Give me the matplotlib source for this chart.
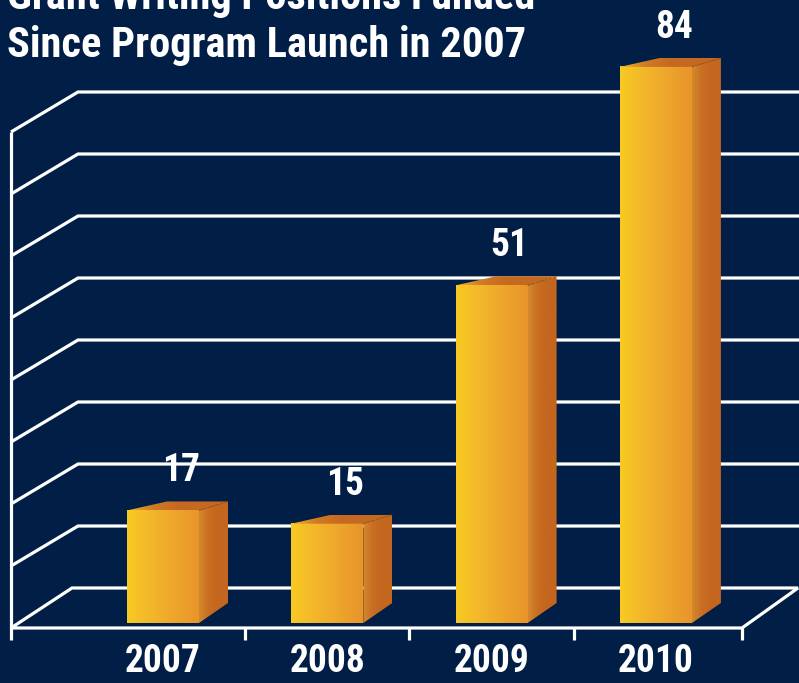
import numpy as np
import matplotlib.pyplot as plt
from matplotlib.patches import Polygon
from matplotlib.colors import LinearSegmentedColormap
from matplotlib import font_manager

# Datos del grafico
years = ['2007', '2008', '2009', '2010']
positions = [17, 15, 51, 84]
title_lines = ['Grant Writing Positions Funded', 'Since Program Launch in 2007']

BG = '#011e46'


def pick_font():
    for fam in ['Roboto Condensed', 'Liberation Sans Narrow', 'Open Sans Condensed']:
        try:
            font_manager.findfont(font_manager.FontProperties(family=fam),
                                  fallback_to_default=False)
            return fam, 'normal'
        except Exception:
            pass
    return 'DejaVu Sans', 'condensed'


FONT, STRETCH = pick_font()
NARROW = FONT != 'DejaVu Sans'
TITLE_SIZE = 30.5 if NARROW else 25
LABEL_SIZE = 27 if NARROW else 23

# escala: pixeles por unidad de categoria / unidad de valor
PX_X = 164.3
PX_Y = 6.62


def ox(p):
    return p / PX_X


def oy(p):
    return p / PX_Y


fig = plt.figure(figsize=(7.99, 6.83), dpi=100)
fig.patch.set_facecolor(BG)
ax = fig.add_axes([0, 0, 1, 1])
ax.set_facecolor(BG)
ax.axis('off')

# Rejilla en perspectiva
floor_v = -oy(5)
wall_x = ox(11 - 163)
wall_dx = ox(67)
depth_dy = oy(40)
step = oy(62)
floor_right = ox(742 - 163)
xmax = (799 - 163) / PX_X
line_kw = dict(color='white', lw=2.3, solid_capstyle='butt', solid_joinstyle='miter', zorder=1)

for k in range(9):
    yf = floor_v + k * step
    yb = yf + depth_dy
    if k == 0:
        ax.plot([wall_x, wall_x + ox(61), floor_right + ox(56), floor_right, wall_x],
                [yf, yb, yb, yf, yf], **line_kw)
    else:
        ax.plot([wall_x, wall_x + wall_dx, xmax + 0.1], [yf, yb, yb], **line_kw)

tick_len = oy(12)
ax.plot([wall_x, wall_x], [floor_v + 8 * step, floor_v - tick_len], **line_kw)
for t in [0.5, 1.5, 2.5, floor_right]:
    ax.plot([t, t], [floor_v, floor_v - tick_len], **line_kw)

# Barras 3D con degradado
front_cmap = LinearSegmentedColormap.from_list('front', ['#f8ca22', '#f3b72b', '#eea52c', '#e8952a'])
side_cmap = LinearSegmentedColormap.from_list('side', ['#d5892e', '#c96e22', '#c4661f', '#c4661f'])
top_cmap = LinearSegmentedColormap.from_list('top', ['#f2b52a', '#d07a26', '#c66920', '#c66920', '#c66920'])
grad = np.linspace(0, 1, 256).reshape(1, -1)

half_w = ox(36)
side_dx = ox(29)
top_dy = oy(9)
bot_dy = oy(20)
top_left_dx = ox(40)

for i, v in enumerate(positions):
    x0, x1 = i - half_w, i + half_w
    # cara frontal
    ax.imshow(grad, cmap=front_cmap, extent=(x0, x1, 0, v), aspect='auto', zorder=3,
              interpolation='bilinear')
    # cara lateral
    side = Polygon([(x1, 0), (x1, v), (x1 + side_dx, v + top_dy), (x1 + side_dx, bot_dy)],
                   closed=True, facecolor='none', edgecolor='none')
    ax.add_patch(side)
    im = ax.imshow(grad, cmap=side_cmap, extent=(x1, x1 + side_dx, 0, v + top_dy),
                   aspect='auto', zorder=3, interpolation='bilinear')
    im.set_clip_path(side)
    # cara superior
    top = Polygon([(x0, v), (x1, v), (x1 + side_dx, v + top_dy), (x0 + top_left_dx, v + top_dy)],
                  closed=True, facecolor='none', edgecolor='none')
    ax.add_patch(top)
    im = ax.imshow(grad, cmap=top_cmap, extent=(x0, x1 + side_dx, v, v + top_dy),
                   aspect='auto', zorder=3, interpolation='bilinear')
    im.set_clip_path(top)
    ax.plot([x1, x1 + side_dx], [v, v + top_dy], color='#9a5a22', lw=0.8,
            ls=(0, (2, 2)), zorder=4)

    # etiqueta de valor
    ax.text(i + ox(18), v + oy(29), str(v), color='white', fontsize=LABEL_SIZE,
            fontweight='bold', family=FONT, fontstretch=STRETCH,
            ha='center', va='baseline', zorder=5)

# etiquetas de los anos
for i, y in enumerate(years):
    ax.text(i, -oy(49), y, color='white', fontsize=LABEL_SIZE, fontweight='bold',
            family=FONT, fontstretch=STRETCH, ha='center', va='baseline')

ax.set_xlim(-163 / PX_X, (799 - 163) / PX_X)
ax.set_ylim(-60 / PX_Y, 623 / PX_Y)

# Titulo (parcialmente cortado arriba)
fig.text(7 / 799, 1 - 9 / 683, title_lines[0], color='white', fontsize=TITLE_SIZE,
         fontweight='bold', family=FONT, fontstretch=STRETCH, va='baseline', ha='left')
fig.text(7 / 799, 1 - 57 / 683, title_lines[1], color='white', fontsize=TITLE_SIZE,
         fontweight='bold', family=FONT, fontstretch=STRETCH, va='baseline', ha='left')

fig.savefig('out.png', dpi=100, facecolor=BG)
